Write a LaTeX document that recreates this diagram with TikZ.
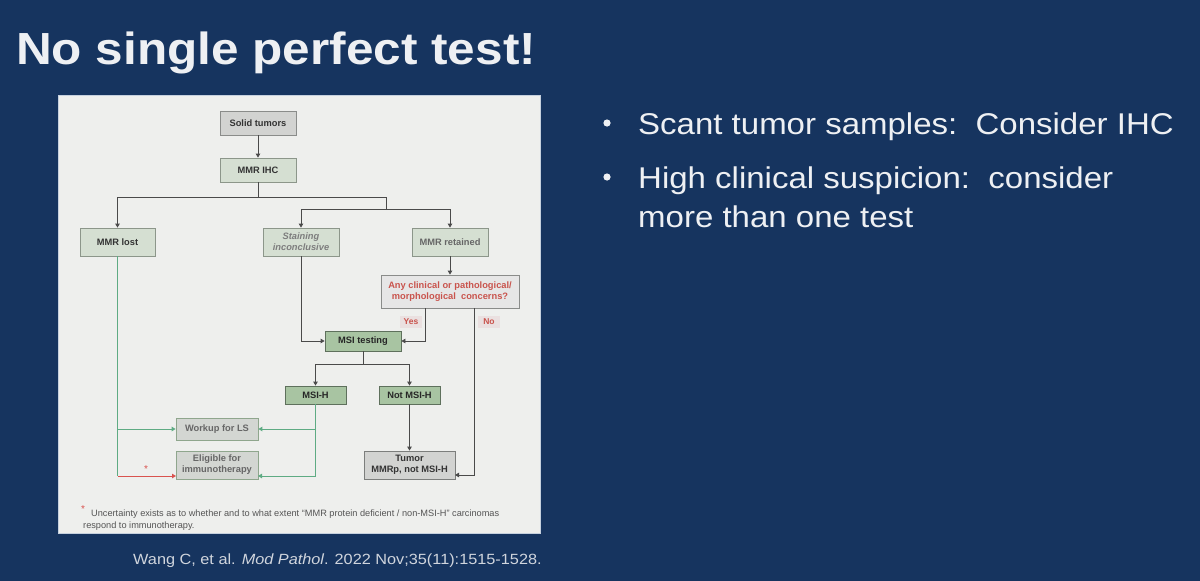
\documentclass[tikz,border=0pt]{standalone}
\usepackage{fontspec}
\setmainfont{Liberation Sans}
\newfontfamily\slidefont[FakeStretch=1.1]{Liberation Sans}
\usetikzlibrary{arrows.meta}
\definecolor{navy}{HTML}{16345F}
\definecolor{slidetext}{HTML}{EEF0F3}
\definecolor{citetext}{HTML}{D0D5DD}
\definecolor{panelfill}{HTML}{EEEFED}
\definecolor{panelborder}{HTML}{C5D0DE}
\definecolor{graybox}{HTML}{D2D3D1}
\definecolor{grayborder}{HTML}{8A8C8A}
\definecolor{lightgreen}{HTML}{D5DFD2}
\definecolor{lgborder}{HTML}{8C968A}
\definecolor{midgreen}{HTML}{A8C4A2}
\definecolor{mgborder}{HTML}{5E705C}
\definecolor{outbox}{HTML}{D3D6D2}
\definecolor{outborder}{HTML}{8FA68D}
\definecolor{qfill}{HTML}{E6E6E6}
\definecolor{redtext}{HTML}{C9534C}
\definecolor{labelfill}{HTML}{EAE0E0}
\definecolor{darktext}{HTML}{333333}
\definecolor{midtext}{HTML}{666666}
\definecolor{linegray}{HTML}{4A4A4A}
\definecolor{linegreen}{HTML}{5EAB83}
\definecolor{linered}{HTML}{D9534F}
\definecolor{foottext}{HTML}{555555}
\begin{document}
\begin{tikzpicture}[x=1pt,y=-1pt,
  chart/.style={font=\fontsize{9.3}{11}\selectfont\bfseries, inner sep=0pt, align=center, line width=0.8pt},
  startbox/.style={chart, fill=graybox, draw=grayborder, text=darktext},
  lgbox/.style={chart, fill=lightgreen, draw=lgborder, text=darktext},
  mgbox/.style={chart, fill=midgreen, draw=mgborder, text=black!85},
  outcome/.style={chart, fill=outbox, draw=outborder, text=midtext},
  tumorbox/.style={chart, fill=graybox, draw=grayborder!90!black, text=darktext},
  qbox/.style={chart, fill=qfill, draw=grayborder, text=redtext},
  yn/.style={chart, fill=labelfill, text=redtext, minimum width=22pt, minimum height=12pt, font=\fontsize{8.5}{10}\selectfont\bfseries},
  conn/.style={draw=linegray, line width=0.8pt},
  arr/.style={conn, -{Triangle[length=4pt,width=4.5pt]}},
  gconn/.style={draw=linegreen, line width=1pt},
  garr/.style={gconn, -{Triangle[length=4pt,width=4.5pt]}},
  rarr/.style={draw=linered, line width=1pt, -{Triangle[length=4pt,width=4.5pt]}},
  slide/.style={inner sep=0pt, text=slidetext, anchor=base west}
]
\useasboundingbox (0,0) rectangle (1200,581);
\fill[navy] (0,0) rectangle (1200,581);

% title
\node[slide, font=\slidefont\fontsize{45}{50}\selectfont\bfseries] (title) at (16,64) {No single perfect test!};

% bullets
\node[slide, font=\slidefont\fontsize{30}{39}\selectfont] (b1) at (638,134) {Scant tumor samples:\ \ Consider IHC};
\node[slide, font=\slidefont\fontsize{30}{39}\selectfont] (b2) at (638,188) {High clinical suspicion:\ \ consider};
\node[slide, font=\slidefont\fontsize{30}{39}\selectfont] (b3) at (638,227) {more than one test};
\fill[slidetext] (607,123) circle (3.6);
\fill[slidetext] (607,177) circle (3.6);

% citation
\node[inner sep=0pt, anchor=base west, text=citetext, font=\slidefont\fontsize{14.8}{17}\selectfont] (cite) at (133,564) {Wang C, et al. \textit{Mod Pathol}. 2022 Nov;35(11):1515-1528.};

% panel
\draw[fill=panelfill, draw=panelborder, line width=1pt] (58,95) rectangle (540,533);

% nodes
\node[startbox, minimum width=76pt, minimum height=24pt] (solid) at (258,123) {Solid tumors};
\node[lgbox, minimum width=76pt, minimum height=24pt] (ihc) at (258,170) {MMR IHC};
\node[lgbox, minimum width=75pt, minimum height=28pt] (lost) at (117.5,242) {MMR lost};
\node[lgbox, minimum width=76pt, minimum height=28pt, text=midtext!85!white, font=\fontsize{9.3}{11}\selectfont\bfseries\itshape] (stain) at (301,242) {Staining\\inconclusive};
\node[lgbox, minimum width=76pt, minimum height=28pt, text=midtext] (ret) at (450,242) {MMR retained};
\node[qbox, minimum width=138pt, minimum height=33pt] (q) at (450,291.5) {Any clinical or pathological/\\morphological\ \ concerns?};
\node[yn] (yes) at (411,322) {Yes};
\node[yn] (no) at (489,322) {No};
\node[mgbox, minimum width=76pt, minimum height=20pt] (msi) at (363,341) {MSI testing};
\node[mgbox, minimum width=61pt, minimum height=18pt] (msih) at (315.5,395) {MSI-H};
\node[mgbox, minimum width=61pt, minimum height=18pt] (notmsih) at (409.5,395) {Not MSI-H};
\node[outcome, minimum width=82pt, minimum height=22pt] (workup) at (217,429) {Workup for LS};
\node[outcome, minimum width=82pt, minimum height=28pt] (elig) at (217,465) {Eligible for\\immunotherapy};
\node[tumorbox, minimum width=91pt, minimum height=28pt] (tumor) at (409.5,465) {Tumor\\MMRp, not MSI-H};

% junction coordinates
\coordinate (j1) at (258,197);
\coordinate (j1l) at (117.5,197);
\coordinate (j1r) at (386,197);
\coordinate (j2) at (386,209);
\coordinate (j2l) at (301,209);
\coordinate (j2r) at (450,209);
\coordinate (yesTop) at (425,308);
\coordinate (noTop) at (474,308);
\coordinate (j3) at (363,364);
\coordinate (j3l) at (315.5,364);
\coordinate (j3r) at (409.5,364);
\coordinate (eW) at (176,476);
\coordinate (eE) at (258,476);
\coordinate (tE) at (455,475);

% connectors
\draw[arr] (solid) -- (ihc);
\draw[conn] (ihc.south) -- (j1) -- (j1r) -- (j2);
\draw[arr] (j1) -- (j1l) -- (lost.north);
\draw[conn] (j2l) -- (j2r);
\draw[arr] (j2l) -- (stain.north);
\draw[arr] (j2r) -- (ret.north);
\draw[arr] (ret) -- (q);
\draw[arr] (stain.south) |- (msi.west);
\draw[arr] (yesTop) |- (msi.east);
\draw[arr] (noTop) |- (tE);
\draw[conn] (msi.south) -- (j3);
\draw[arr] (j3) -- (j3l) -- (msih.north);
\draw[arr] (j3) -- (j3r) -- (notmsih.north);
\draw[arr] (notmsih) -- (tumor);

\draw[gconn] (lost.south) -- (lost.south |- eW);
\draw[garr] (lost.south |- workup.west) -- (workup.west);
\draw[rarr] (lost.south |- eW) -- (eW);
\node[text=linered, inner sep=0pt, font=\fontsize{10}{10}\selectfont] (star) at (146,469) {*};

\draw[gconn] (msih.south) -- (msih.south |- eE);
\draw[garr] (msih.south |- workup.east) -- (workup.east);
\draw[garr] (msih.south |- eE) -- (eE);

% footnote
\node[text=linered, inner sep=0pt, font=\fontsize{10}{10}\selectfont] (fstar) at (83,509) {*};
\node[inner sep=0pt, anchor=base west, text=foottext, font=\fontsize{9.2}{12}\selectfont] (fn1) at (91,516) {Uncertainty exists as to whether and to what extent “MMR protein deficient / non-MSI-H” carcinomas};
\node[inner sep=0pt, anchor=base west, text=foottext, font=\fontsize{9.2}{12}\selectfont] (fn2) at (83,528) {respond to immunotherapy.};
\end{tikzpicture}
\end{document}
